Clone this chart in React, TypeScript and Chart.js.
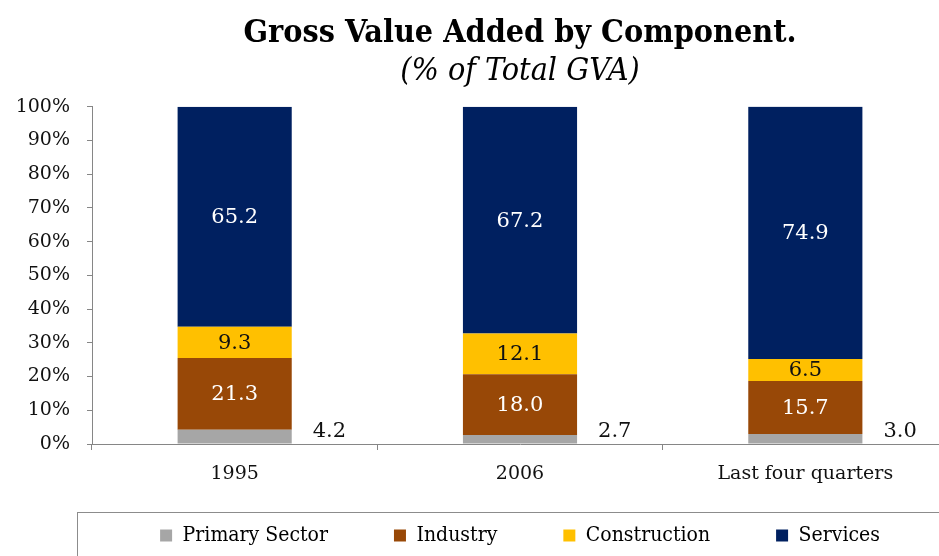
import React, { useEffect, useRef } from "react";
import { Chart, registerables } from "chart.js";

Chart.register(...registerables);

const categories = ["1995", "2006", "Last four quarters"];
const seriesNames = ["Primary Sector", "Industry", "Construction", "Services"];
const primary = [4.2, 2.7, 3.0];
const industry = [21.3, 18.0, 15.7];
const construction = [9.3, 12.1, 6.5];
const services = [65.2, 67.2, 74.9];
const yTicks = [0, 10, 20, 30, 40, 50, 60, 70, 80, 90, 100];

const colors = ["#A6A6A6", "#984807", "#FFC000", "#002060"];
const labelColors = ["#111111", "#FFFFFF", "#111111", "#FFFFFF"];

const NUM_FONT = "'DejaVu Serif', serif";
const COND_FONT = "'DejaVu Serif Condensed', 'DejaVu Serif', serif";
const LEGEND_SHIFT = 26;

const labelPlugin = {
  id: "segLabels",
  afterDatasetsDraw(chart: any) {
    const ctx = chart.ctx;
    ctx.save();
    ctx.font = `21px ${NUM_FONT}`;
    chart.data.datasets.forEach((ds: any, di: number) => {
      const meta = chart.getDatasetMeta(di);
      meta.data.forEach((bar: any, i: number) => {
        const v = ds.data[i];
        const txt = v.toFixed(1);
        ctx.fillStyle = labelColors[di];
        ctx.textBaseline = "middle";
        if (di === 0) {
          ctx.textAlign = "left";
          ctx.fillText(txt, bar.x + bar.width / 2 + 21, bar.base - 12);
        } else {
          ctx.textAlign = "center";
          ctx.fillText(txt, bar.x, (bar.y + bar.base) / 2 + 1);
        }
      });
    });
    ctx.restore();
  },
};

const legendShiftPlugin = {
  id: "legendShift",
  afterLayout(chart: any) {
    const lg = chart.legend;
    if (!lg) return;
    lg.top -= LEGEND_SHIFT;
    lg.bottom -= LEGEND_SHIFT;
  },
};

const legendBoxPlugin = {
  id: "legendBox",
  afterDraw(chart: any) {
    const lg = chart.legend;
    if (!lg || !lg.legendHitBoxes || !lg.legendHitBoxes.length) return;
    const hb = lg.legendHitBoxes[0];
    const cy = hb.top + hb.height / 2;
    const ctx = chart.ctx;
    ctx.save();
    ctx.strokeStyle = "#8C8C8C";
    ctx.lineWidth = 1;
    const left = chart.chartArea.left - 15 + 0.5;
    ctx.strokeRect(left, Math.round(cy - 24) + 0.5, chart.width - left + 20, 80);
    ctx.restore();
  },
};

export default function App() {
  const ref = useRef<HTMLCanvasElement>(null);
  useEffect(() => {
    if (!ref.current) return;
    const chart = new Chart(ref.current, {
      type: "bar",
      data: {
        labels: categories,
        datasets: [primary, industry, construction, services].map((d, i) => ({
          label: seriesNames[i],
          data: d,
          backgroundColor: colors[i],
          borderWidth: 0,
          barPercentage: 0.4,
          categoryPercentage: 1,
        })),
      },
      options: {
        responsive: false,
        animation: false,
        layout: { padding: { left: 0, right: 12, top: 0, bottom: 3 } },
        plugins: {
          title: {
            display: true,
            text: "Gross Value Added by Component.",
            fullSize: false,
            color: "#000000",
            font: { family: COND_FONT, size: 32, weight: "bold" },
            padding: { top: 14, bottom: 0 },
          },
          subtitle: {
            display: true,
            text: "(% of Total GVA)",
            fullSize: false,
            color: "#000000",
            font: { family: COND_FONT, size: 32, style: "italic" },
            padding: { top: 0, bottom: 16 },
          },
          legend: {
            position: "bottom",
            fullSize: false,
            labels: {
              color: "#000000",
              font: { family: COND_FONT, size: 21 },
              boxWidth: 12,
              boxHeight: 12,
              padding: 66,
            },
          },
          tooltip: { enabled: false },
        },
        scales: {
          x: {
            stacked: true,
            grid: { drawOnChartArea: false, drawTicks: true, tickLength: 6, color: "#868686", offset: true },
            border: { color: "#868686", width: 1 },
            ticks: { color: "#111111", font: { family: NUM_FONT, size: 19 }, padding: 13 },
            afterFit(scale: any) {
              scale.height = 41;
            },
          },
          y: {
            stacked: true,
            min: 0,
            max: 100,
            afterBuildTicks(scale: any) {
              scale.ticks = yTicks.map((v) => ({ value: v }));
            },
            grid: { drawOnChartArea: false, drawTicks: true, tickLength: 5, color: "#868686" },
            border: { color: "#868686", width: 1 },
            ticks: {
              color: "#111111",
              font: { family: NUM_FONT, size: 19 },
              padding: 17,
              callback: (v: any) => `${v}%`,
            },
            afterFit(scale: any) {
              scale.width = 92;
            },
          },
        },
      },
      plugins: [labelPlugin, legendShiftPlugin, legendBoxPlugin],
    });
    return () => chart.destroy();
  }, []);
  return (
    <div style={{ position: "fixed", left: 0, top: 0, width: 939, height: 556, overflow: "hidden", background: "#fff" }}>
      <canvas ref={ref} width={960} height={585} style={{ display: "block" }} />
    </div>
  );
}
